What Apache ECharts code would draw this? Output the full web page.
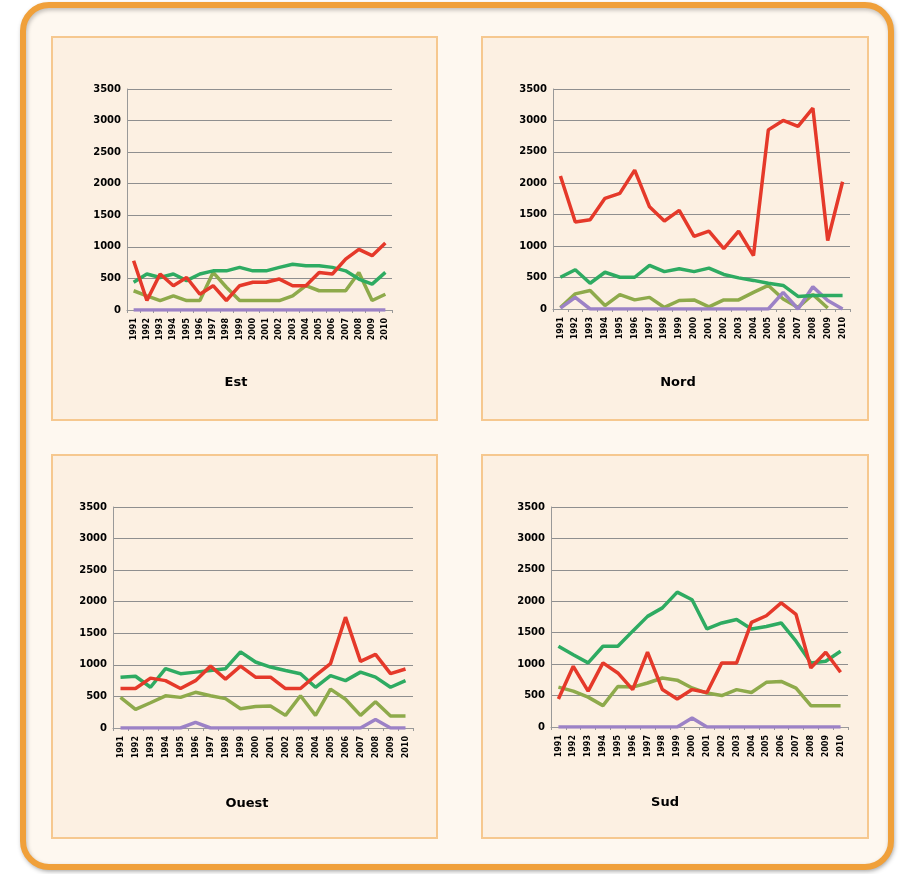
<!DOCTYPE html>
<html>
<head>
<meta charset="utf-8">
<script src="https://cdn.jsdelivr.net/npm/echarts@6/dist/echarts.min.js"></script>
<style>
  html, body { margin: 0; padding: 0; background: #fff; }
  #chart { width: 900px; height: 874px; }
</style>
</head>
<body>
<div id="chart"></div>
<script>
// années (axe des x)
const years = ['1991', '1992', '1993', '1994', '1995', '1996', '1997', '1998', '1999', '2000',
  '2001', '2002', '2003', '2004', '2005', '2006', '2007', '2008', '2009', '2010']

// Est
const estRed = [780, 150, 570, 385, 515, 250, 385, 150, 385, 440, 440, 490, 385, 385, 595, 570, 805, 960, 860, 1060]
const estGreen = [440, 570, 515, 570, 465, 570, 620, 620, 675, 620, 620, 675, 725, 700, 700, 675, 620, 490, 410, 595]
const estOlive = [305, 225, 150, 225, 150, 150, 595, 360, 150, 150, 150, 150, 225, 385, 305, 305, 305, 595, 150, 250]
const estPurple = [0, 0, 0, 0, 0, 0, 0, 0, 0, 0, 0, 0, 0, 0, 0, 0, 0, 0, 0, 0]

// Nord
const nordRed = [2115, 1385, 1420, 1760, 1840, 2210, 1625, 1400, 1570, 1155, 1240, 960, 1240, 850, 2850, 3000, 2905, 3195, 1090, 2025]
const nordGreen = [505, 625, 410, 585, 505, 505, 695, 595, 640, 595, 650, 550, 495, 455, 410, 375, 200, 215, 215, 215]
const nordOlive = [25, 240, 295, 55, 230, 145, 185, 25, 135, 145, 35, 145, 145, 265, 375, 160, 25, 230, 15, null]
const nordPurple = [15, 185, 0, 0, 0, 0, 0, 0, 0, 0, 0, 0, 0, 0, 0, 265, 0, 355, 135, 0]

// Ouest
const ouestRed = [625, 625, 790, 750, 625, 750, 980, 775, 980, 805, 805, 625, 625, 830, 1020, 1755, 1055, 1165, 860, 935]
const ouestGreen = [805, 820, 645, 940, 860, 885, 910, 940, 1205, 1045, 965, 910, 860, 645, 830, 750, 885, 805, 645, 750]
const ouestOlive = [485, 295, 400, 510, 485, 565, 510, 465, 305, 340, 350, 200, 510, 200, 615, 455, 200, 415, 190, 190]
const ouestPurple = [0, 0, 0, 0, 0, 90, 0, 0, 0, 0, 0, 0, 0, 0, 0, 0, 0, 135, 0, 0]

// Sud
const sudRed = [445, 965, 570, 1020, 860, 595, 1190, 595, 445, 595, 550, 1020, 1020, 1665, 1770, 1975, 1790, 940, 1190, 870]
const sudGreen = [1285, 1150, 1020, 1285, 1285, 1525, 1760, 1895, 2145, 2025, 1560, 1655, 1710, 1560, 1600, 1655, 1365, 1020, 1045, 1205]
const sudOlive = [635, 570, 475, 340, 645, 635, 700, 780, 745, 620, 540, 500, 595, 550, 710, 725, 620, 340, 340, 340]
const sudPurple = [0, 0, 0, 0, 0, 0, 0, 0, 0, 145, 0, 0, 0, 0, 0, 0, 0, 0, 0, 0]

const colors = { red: '#e5392a', green: '#2eab62', olive: '#8eaa4b', purple: '#9c82c6' }

const panels = [
  { name: 'Est', grid: { left: 127, top: 89, width: 265, height: 221 }, box: [52, 37, 385, 383], title: [236, 383],
    data: { olive: estOlive, purple: estPurple, green: estGreen, red: estRed } },
  { name: 'Nord', grid: { left: 553, top: 89, width: 297, height: 220 }, box: [482, 37, 386, 383], title: [678, 383],
    data: { olive: nordOlive, purple: nordPurple, green: nordGreen, red: nordRed } },
  { name: 'Ouest', grid: { left: 113, top: 507, width: 300, height: 221 }, box: [52, 455, 385, 383], title: [247, 804],
    data: { olive: ouestOlive, purple: ouestPurple, green: ouestGreen, red: ouestRed } },
  { name: 'Sud', grid: { left: 551, top: 507, width: 297, height: 220 }, box: [482, 455, 386, 383], title: [665, 803],
    data: { olive: sudOlive, purple: sudPurple, green: sudGreen, red: sudRed } }
]

const chart = echarts.init(document.getElementById('chart'))

const grids = []
const xAxes = []
const yAxes = []
const series = []
const graphics = [{
  type: 'rect',
  shape: { x: 23, y: 5, width: 868, height: 862, r: 26 },
  style: { fill: '#fef8f0', stroke: '#f0a03a', lineWidth: 6, shadowBlur: 4, shadowColor: 'rgba(0,0,0,0.25)', shadowOffsetX: 1, shadowOffsetY: 2 },
  z: -10
}]

panels.forEach((p, i) => {
  grids.push(p.grid)
  xAxes.push({
    type: 'category',
    gridIndex: i,
    data: years,
    boundaryGap: true,
    axisLine: { lineStyle: { color: '#999' } },
    axisTick: { show: true, length: 3, lineStyle: { color: '#999' } },
    axisLabel: { rotate: 90, interval: 0, fontSize: 8, fontWeight: 'bold', color: '#000', margin: 8, fontFamily: 'DejaVu Sans' }
  })
  yAxes.push({
    type: 'value',
    gridIndex: i,
    min: 0,
    max: 3500,
    interval: 500,
    axisLine: { show: true, lineStyle: { color: '#999' } },
    axisTick: { show: false },
    splitLine: { lineStyle: { color: '#8f8f8f', width: 1 } },
    axisLabel: { fontSize: 10, fontWeight: 'bold', color: '#000', margin: 6, fontFamily: 'DejaVu Sans',
      formatter: (v) => String(v) }
  })
  Object.keys(p.data).forEach((k) => {
    series.push({
      name: p.name + ' ' + k,
      type: 'line',
      xAxisIndex: i,
      yAxisIndex: i,
      data: p.data[k],
      symbol: 'none',
      lineStyle: { color: colors[k], width: 3.5 },
      itemStyle: { color: colors[k] },
      animation: false
    })
  })
  graphics.push({
    type: 'rect',
    shape: { x: p.box[0], y: p.box[1], width: p.box[2], height: p.box[3] },
    style: { fill: '#fcf0e2', stroke: '#f6c88f', lineWidth: 2 },
    z: -5
  })
  graphics.push({
    type: 'text',
    x: p.title[0],
    y: p.title[1],
    style: { text: p.name, fontSize: 13, fontWeight: 'bold', fill: '#000', align: 'center', verticalAlign: 'middle', fontFamily: 'DejaVu Sans' }
  })
})

chart.setOption({
  animation: false,
  graphic: graphics,
  grid: grids,
  xAxis: xAxes,
  yAxis: yAxes,
  series: series
})
</script>
</body>
</html>
